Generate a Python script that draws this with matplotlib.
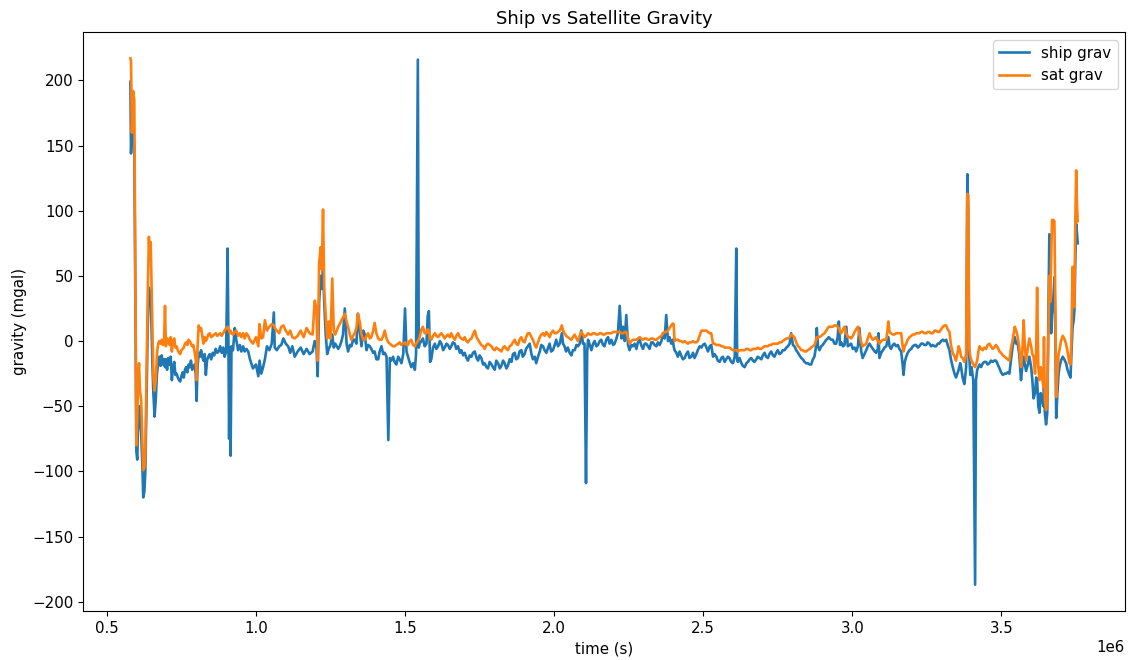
import numpy as np
import matplotlib
matplotlib.use("Agg")
import matplotlib.pyplot as plt

# ---- data (time in units of 1e6 s, gravity in mgal) ----
t_a = [0.579, 0.581, 0.584, 0.588, 0.592, 0.599, 0.602, 0.605, 0.608, 0.611,
       0.615, 0.619, 0.622, 0.626, 0.629, 0.633, 0.637, 0.641, 0.644, 0.647,
       0.650, 0.653, 0.656, 0.660, 0.664, 0.668, 0.672, 0.676, 0.680, 0.684,
       0.688, 0.692, 0.695, 0.698, 0.702, 0.706, 0.710, 0.714, 0.718, 0.722,
       0.726, 0.730, 0.734]
ship_a = [199, 144, 160, 157, 150, -85, -91, -60, -50, -62,
          -70, -95, -120, -115, -100, -45, 10, 41, 30, 38,
          10, -20, -40, -58, -45, -25, -17, -12, -19, -11,
          -18, -14, -20, -14, -22, -13, -18, -12, -30, -20,
          -16, -26, -25]
sat_a = [217, 215, 160, 192, 185, -80, -60, -25, -17, -38,
         -45, -75, -99, -97, -85, -25, 35, 80, 62, 76,
         40, 5, -28, -38, -30, -10, -2, 0, -2, 1,
         -3, 0, 27, -4, 2, 1, -3, 3, -8, 0,
         2, -5, -4]

t_b = [0.738, 0.742, 0.746, 0.750, 0.754, 0.758, 0.762, 0.766, 0.770, 0.774,
       0.778, 0.782, 0.786, 0.790, 0.794, 0.798, 0.801, 0.804, 0.808, 0.812,
       0.816, 0.820, 0.824, 0.828, 0.832, 0.836, 0.840, 0.845, 0.850, 0.855,
       0.860, 0.865, 0.870, 0.875, 0.880, 0.885, 0.890, 0.895, 0.900, 0.905,
       0.908, 0.910, 0.913, 0.915, 0.918]
ship_b = [-28, -30, -31, -27, -24, -28, -22, -20, -24, -18,
          -20, -15, -22, -20, -18, -25, -46, -20, -9, -12,
          -7, -12, -15, -10, -26, -15, -12, -10, -14, -9,
          -11, -6, -9, -8, -4, -9, -5, -12, -8, 71,
          -10, -75, -5, -88, -4]
sat_b = [-7, -9, -10, -7, -6, -5, -2, -1, -3, 1,
         0, -2, -4, -3, -8, -14, -30, -5, 12, 8,
         10, 4, -2, 3, 0, 2, 5, 6, 3, 4,
         5, 6, 4, 5, 6, 4, 6, 8, 10, 11,
         9, 8, 6, 8, 6]

t_c = [0.923, 0.929, 0.934, 0.940, 0.946, 0.951, 0.957, 0.962, 0.968, 0.974,
       0.980, 0.990, 1.000, 1.008, 1.012, 1.018, 1.024, 1.030, 1.037, 1.045,
       1.053, 1.060, 1.063, 1.070, 1.078, 1.085, 1.092, 1.100, 1.108, 1.115,
       1.122, 1.130, 1.140, 1.150, 1.160, 1.170, 1.180, 1.190, 1.197, 1.203,
       1.207, 1.212, 1.217, 1.221, 1.225, 1.229, 1.234, 1.239, 1.244, 1.250,
       1.256, 1.261, 1.266, 1.271, 1.276, 1.281, 1.287, 1.292, 1.298, 1.304,
       1.309, 1.315, 1.320, 1.326, 1.331, 1.337, 1.342, 1.348, 1.354, 1.360,
       1.365, 1.371, 1.376, 1.382, 1.387, 1.393, 1.398, 1.404, 1.410, 1.415,
       1.421, 1.427, 1.432, 1.438, 1.444, 1.449, 1.454, 1.460, 1.465, 1.471,
       1.477, 1.482, 1.488, 1.494, 1.500, 1.505, 1.510, 1.515, 1.521, 1.527,
       1.533, 1.537, 1.543, 1.546, 1.549, 1.555, 1.560, 1.566, 1.572, 1.576,
       1.580, 1.584, 1.588, 1.594, 1.600, 1.605, 1.611, 1.617, 1.622, 1.628,
       1.633, 1.639, 1.644, 1.650, 1.655, 1.661, 1.667, 1.672, 1.678, 1.684,
       1.689, 1.695, 1.700, 1.706, 1.711, 1.717, 1.723, 1.728, 1.734, 1.740,
       1.745, 1.750, 1.756, 1.762, 1.767, 1.773, 1.778, 1.784, 1.790, 1.795,
       1.801, 1.806, 1.812, 1.818, 1.823, 1.829, 1.834, 1.840, 1.845, 1.851,
       1.857, 1.862, 1.868, 1.873, 1.879, 1.884, 1.890, 1.895, 1.901, 1.906,
       1.912, 1.918]
ship_c = [-7, 10, 1, -7, -3, -8, -4, -8, -6, -8,
          -14, -21, -18, -27, -15, -25, -20, -14, -4, -7,
          -2, 22, -5, -7, -4, -3, 2, -2, -4, -9,
          -4, -12, -8, -5, -10, -6, -10, -8, 0, -5,
          -27, 30, 50, 40, 55, 30, 5, -10, -6, -3,
          5, -5, -2, -4, -6, -4, 0, 5, 25, -2,
          -8, -3, -4, 1, 1, -2, 21, 8, -4, 8,
          5, -7, -3, -4, -6, -9, -8, -14, -14, -8,
          -4, -10, -9, -12, -76, -13, -15, -12, -16, -18,
          -12, -14, -17, -10, 25, -8, -12, -16, -20, -17,
          -22, -10, 216, -5, -2, 0, 2, -4, -2, 19,
          23, -16, -14, -5, -2, -6, -4, 0, -2, -7,
          -5, -2, -3, -6, -4, -1, -2, -6, -4, -9,
          -7, -11, -9, -13, -15, -11, -12, -9, -8, -13,
          -15, -11, -13, -18, -17, -20, -21, -16, -18, -20,
          -22, -15, -17, -21, -19, -15, -17, -21, -19, -14,
          -16, -10, -9, -14, -13, -8, -7, -12, -10, -6,
          -4, -2]
sat_c = [5, 7, 8, 4, 6, 3, 6, 2, 6, 4,
         1, -2, 3, -4, 13, 2, 3, 16, 8, 11,
         13, 12, 10, 8, 6, 11, 12, 8, 5, 8,
         3, 2, 4, 8, 3, 10, 6, 5, 31, 25,
         -15, 60, 72, 55, 101, 40, 20, 2, 15, 2,
         48, 8, 5, 8, 11, 13, 16, 18, 21, 15,
         11, 5, 1, 4, 6, 10, 21, 15, 5, 1,
         1, 4, 6, 2, 3, 8, 14, 6, 2, 1,
         1, 4, 8, 2, -1, -2, -3, -4, -4, -3,
         -2, -1, -3, -2, -1, -3, -3, 0, 1, -3,
         -4, -2, 0, 1, 3, 9, 11, 6, 6, 9,
         8, 2, 1, 4, 6, 4, 3, 5, 6, 4,
         2, 4, 5, 3, 6, 3, 1, 4, 6, 3,
         2, 1, 3, 0, -1, 1, 2, 5, 8, 3,
         1, -1, -3, -4, -6, -3, -2, -3, -4, -6,
         -7, -5, -6, -7, -8, -5, -4, -6, -7, -4,
         -3, -1, 1, -2, -3, 1, 3, 0, -1, 3,
         6, 6]

t_d = [1.924, 1.929, 1.935, 1.940, 1.946, 1.952, 1.957, 1.963, 1.968, 1.974,
       1.980, 1.985, 1.990, 1.996, 2.002, 2.007, 2.013, 2.019, 2.026, 2.030,
       2.035, 2.040, 2.046, 2.052, 2.058, 2.063, 2.069, 2.075, 2.080, 2.086,
       2.091, 2.097, 2.102, 2.107, 2.111, 2.114, 2.120, 2.125, 2.131, 2.136,
       2.142, 2.147, 2.153, 2.158, 2.164, 2.169, 2.175, 2.181, 2.186, 2.192,
       2.198, 2.203, 2.209, 2.214, 2.220, 2.226, 2.231, 2.237, 2.242, 2.248,
       2.253, 2.259, 2.264, 2.270, 2.276, 2.281, 2.287, 2.292, 2.298, 2.304,
       2.309, 2.315, 2.320, 2.326, 2.331, 2.337, 2.343, 2.348, 2.354, 2.360,
       2.365, 2.371, 2.376, 2.382, 2.387, 2.393, 2.398, 2.401, 2.404, 2.410,
       2.415, 2.421, 2.426, 2.432, 2.438, 2.443, 2.449, 2.454, 2.460, 2.466,
       2.471, 2.477, 2.482, 2.488, 2.494, 2.499, 2.505, 2.511, 2.516, 2.522,
       2.527, 2.533, 2.538, 2.544, 2.549, 2.555, 2.561, 2.566, 2.572, 2.577,
       2.583, 2.588, 2.594, 2.600, 2.606, 2.611, 2.614, 2.616, 2.622, 2.628,
       2.633, 2.639, 2.645, 2.650, 2.656, 2.661, 2.667, 2.672, 2.678, 2.683,
       2.689, 2.695, 2.700, 2.706, 2.711, 2.717, 2.722, 2.728, 2.734, 2.739,
       2.745, 2.750, 2.756, 2.762, 2.767, 2.773, 2.779, 2.784, 2.790, 2.795,
       2.801, 2.806, 2.812, 2.818, 2.823, 2.829, 2.834, 2.840, 2.845, 2.851,
       2.857, 2.862, 2.868, 2.873, 2.878, 2.881, 2.885, 2.890, 2.896, 2.901,
       2.907, 2.913, 2.918, 2.921]
ship_d = [-10, -14, -12, -17, -12, -8, -3, -4, -7, -9,
          -5, -2, -8, -7, -3, 1, -4, -2, 6, -2,
          -4, -8, -5, -9, -11, -7, -7, -3, -4, -2,
          8, -2, -2, -109, -8, 1, -3, -7, -2, 0,
          -4, -3, 0, 1, -3, -4, 1, 3, -2, 1,
          -3, -2, 2, 6, 27, 2, 11, 0, 20, -3,
          -7, -3, -4, -2, -6, -1, 1, -3, -6, -2,
          -2, -4, -6, -1, -1, -3, -4, -1, -3, 0,
          6, 2, 20, 0, 3, -2, 1, -4, -7, -9,
          -12, -8, -11, -14, -13, -10, -8, -13, -12, -9,
          -13, -10, -7, -4, -5, -3, -2, -5, -8, -4,
          -3, -12, -10, -12, -15, -16, -13, -12, -16, -14,
          -12, -13, -16, -17, -12, 71, -14, -16, -13, -17,
          -19, -20, -17, -16, -14, -13, -15, -16, -14, -12,
          -13, -14, -11, -9, -12, -13, -10, -8, -11, -12,
          -9, -7, -10, -9, -7, -7, -5, -4, -2, 6,
          -3, -4, -7, -9, -11, -13, -14, -16, -17, -17,
          -18, -18, -14, -12, -5, 10, -4, -7, -4, -3,
          -1, 1, 2, 3]
sat_d = [3, 1, -3, -5, -1, 3, 5, 6, 4, 7,
         5, 3, 6, 8, 6, 6, 7, 8, 12, 8,
         6, 4, 3, 2, 1, 3, 5, 2, 0, 4,
         7, 5, 3, 4, 5, 6, 5, 5, 6, 6,
         5, 5, 6, 6, 5, 5, 6, 6, 6, 6,
         7, 7, 7, 7, 7, 6, 6, 7, 7, 2,
         -2, 0, 1, 1, 1, 2, 3, 2, 1, 2,
         2, 1, 1, 2, 2, 1, 1, 2, 3, 4,
         6, 7, 7, 8, 10, 12, 13.5, 13, 0, 1,
         1, 0, 0, -1, 0, -1, -2, -1, -1, 0,
         -1, -1, 0, 4, 8, 8, 8, 8, 7, 6,
         6, -2, -2, -3, -3, -3, -4, -4, -5, -5,
         -5, -5, -6, -7, -7, -7, -7, -8, -7, -7,
         -7, -7, -6, -6, -7, -7, -6, -6, -6, -5,
         -6, -6, -5, -4, -4, -4, -3, -3, -2, -2,
         -2, -2, -1, -1, 0, 1, 2, 2, 3, 5,
         4, 3, -1, -4, -5, -7, -7, -8, -8, -7,
         -6, -5, -4, -3, 0, 3, 3, 3, 4, 5,
         6, 8, 10, 11]

t_e = [2.929, 2.935, 2.940, 2.946, 2.951, 2.955, 2.959, 2.963, 2.969, 2.974,
       2.980, 2.985, 2.991, 2.996, 3.002, 3.008, 3.013, 3.019, 3.024, 3.030,
       3.035, 3.041, 3.047, 3.052, 3.058, 3.063, 3.069, 3.075, 3.080, 3.086,
       3.088, 3.091, 3.097, 3.103, 3.108, 3.114, 3.118, 3.121, 3.125, 3.130,
       3.136, 3.141, 3.147, 3.153, 3.158, 3.164, 3.169, 3.172, 3.176, 3.181,
       3.186, 3.192, 3.198, 3.203, 3.209, 3.214, 3.220, 3.225, 3.231, 3.237,
       3.242, 3.248, 3.253, 3.259, 3.264, 3.270, 3.276, 3.281, 3.287, 3.292,
       3.298, 3.304, 3.309, 3.315, 3.320, 3.326, 3.331, 3.337, 3.343, 3.348,
       3.354, 3.357, 3.362, 3.365, 3.370, 3.376, 3.382, 3.386, 3.389, 3.392,
       3.396, 3.400, 3.406, 3.412, 3.415, 3.419, 3.423, 3.427, 3.432, 3.438,
       3.443, 3.449, 3.454, 3.460, 3.465, 3.471, 3.476, 3.482, 3.488, 3.494,
       3.499, 3.505, 3.511, 3.516, 3.521, 3.527, 3.532, 3.538, 3.545, 3.550,
       3.555, 3.560, 3.566, 3.570, 3.575, 3.579, 3.583, 3.589, 3.594, 3.600,
       3.604, 3.608, 3.613, 3.617, 3.620, 3.624, 3.628, 3.632, 3.637, 3.641,
       3.643, 3.646, 3.650, 3.654, 3.658, 3.661, 3.664, 3.667, 3.670, 3.674,
       3.678, 3.681, 3.684, 3.688, 3.692, 3.695, 3.700, 3.706, 3.711, 3.717,
       3.722, 3.728, 3.732, 3.735, 3.739, 3.742, 3.745, 3.748, 3.751, 3.753,
       3.756]
ship_e = [1, 1, -2, -2, 3, 15, -3, -1, -4, -3,
          11, -4, -3, -2, -6, -5, -8, -4, 10, -8,
          -13, -10, -7, -4, -2, -4, -6, -8, -9, -6,
          6, -13, -9, -7, -5, -4, 0, 3, -4, -6,
          -3, -2, -4, -3, -6, -8, -18, -26, -16, -12,
          -9, -7, -6, -4, -3, -3, -5, -4, -2, -2,
          -3, -3, -1, -2, -4, -3, -4, -4, -2, -2,
          0, 1, 0, 1, -3, -7, -14, -20, -25, -28,
          -24, -22, -17, -20, -28, -33, -20, 128, 100, -10,
          -26, -20, -30, -187, -30, -22, -20, -18, -20, -17,
          -16, -16, -18, -17, -15, -16, -15, -15, -18, -21,
          -24, -26, -25, -25, -24, -25, -15, -4, 3, -2,
          -2, -10, -30, -20, -12, -18, -23, -18, -12, -20,
          -30, -44, -40, -28, -30, -50, -55, -40, -45, -50,
          -35, -55, -64, -55, 20, 82, 40, 6, 20, 30,
          49, 10, -59, -40, -25, -20, -15, -12, -14, -17,
          -22, -26, -28, -10, 11, 15, 23, 60, 90, 85,
          75]
sat_e = [11, 11, 12, 12, 11, 10, 7, 6, 9, 11,
         6, 3, 3, 2, 4, 7, 9, 11, 5, -1,
         -4, -3, -2, 2, 6, 3, 1, 2, 3, 0,
         0, -2, 0, 1, 1, 1, 8, 15, 7, 6,
         5, 5, 6, 6, 6, 6, -4, -8, -4, -2,
         1, 3, 4, 5, 5, 6, 6, 6, 7, 7,
         6, 6, 7, 7, 6, 6, 8, 8, 7, 7,
         9, 11, 12, 12, 9, 7, -3, -9, -12, -15,
         -8, -4, -8, -12, -13, -16, -10, 113, 112, -5,
         -12, -15, -18, -20, -18, -15, -8, -4, -6, -7,
         -5, -6, -3, -2, -4, -6, -5, -3, -5, -8,
         -9, -11, -12, -13, -14, -15, -6, 1, 11, 8,
         3, -5, -20, -10, 16, -5, -15, -5, 2, -4,
         -10, -12, -25, -5, 41, -20, -30, -20, -28, -35,
         3, -45, -53, -45, 10, 50, 30, 60, 93, 93,
         92, 30, -43, -25, -10, -7, 0, 4, 2, -2,
         -8, -17, -18, 0, 57, 30, 26, 90, 131, 110,
         92]

series_labels = ["ship grav", "sat grav"]

# ---- assemble ----
t_parts = [t_a, t_b, t_c, t_d, t_e]
ship_parts = [ship_a, ship_b, ship_c, ship_d, ship_e]
sat_parts = [sat_a, sat_b, sat_c, sat_d, sat_e]
for tp, sp, gp in zip(t_parts, ship_parts, sat_parts):
    assert len(tp) == len(sp) == len(gp), (len(tp), len(sp), len(gp))

time_s = np.concatenate([np.asarray(p, float) for p in t_parts]) * 1e6
ship = np.concatenate([np.asarray(p, float) for p in ship_parts])
sat = np.concatenate([np.asarray(p, float) for p in sat_parts])

plt.rcParams["font.size"] = 10.8

fig = plt.figure(figsize=(11.3, 6.6), dpi=100)
ax = fig.add_axes([0.0735, 0.0742, 0.9221, 0.8773])
ax.plot(time_s, ship, color="#1f77b4", lw=1.9, label=series_labels[0])
ax.plot(time_s, sat, color="#ff7f0e", lw=1.9, label=series_labels[1])
ax.set_title("Ship vs Satellite Gravity", fontsize=13)
ax.set_xlabel("time (s)")
ax.set_ylabel("gravity (mgal)")
ax.legend(loc="upper right")
fig.savefig("out.png", dpi=100)
